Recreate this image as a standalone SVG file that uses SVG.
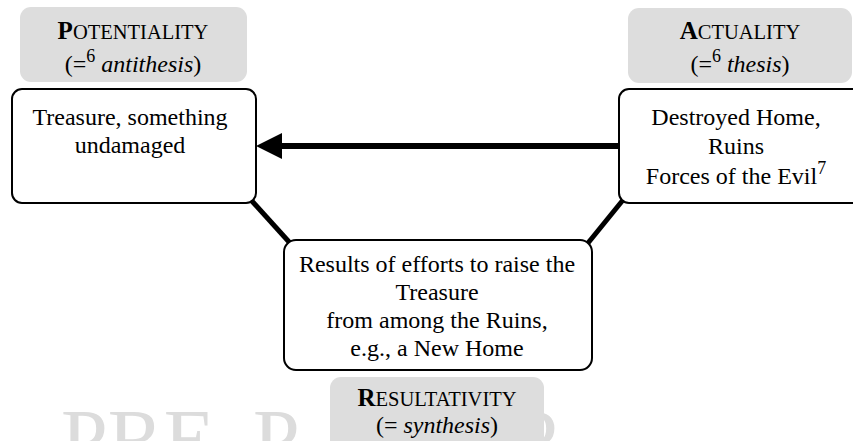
<svg xmlns="http://www.w3.org/2000/svg" width="853" height="441" viewBox="0 0 853 441">
<style>
text{font-family:"Liberation Serif","Times New Roman",serif;fill:#000;}
.t{font-size:24px;text-anchor:middle;}
.cap{font-weight:bold;font-size:25px;}
.sc{font-size:20.5px;}
.sup{font-size:18px;}
.lbl{fill:#dddddd;stroke:none;}
.node{fill:#fff;stroke:#000;stroke-width:2;}
.wm{font-size:84px;fill:#dcdcdc;}
.conn{stroke:#000;fill:none;}
</style>
<defs>
<marker id="ah" markerUnits="userSpaceOnUse" markerWidth="26" markerHeight="26" viewBox="0 -13 26 26" refX="0" refY="0" orient="auto">
<path d="M0,-13 L26,0 L0,13 z" fill="#000"/>
</marker>
</defs>
<g id="watermark">
<text class="wm" x="61" y="468">PRE</text>
<text class="wm" x="253" y="468">P</text>
<text class="wm" x="511" y="468">P</text>
</g>
<g id="connectors">
<line class="conn" x1="619" y1="146" x2="282" y2="146" stroke-width="6" marker-end="url(#ah)"/>
<line class="conn" x1="251" y1="200" x2="290" y2="243" stroke-width="5"/>
<line class="conn" x1="623" y1="200" x2="588" y2="243" stroke-width="5"/>
</g>
<g id="label-potentiality">
<rect class="lbl" x="20" y="7" width="227" height="75" rx="11"/>
<text class="t" x="133" y="39"><tspan class="cap">P</tspan><tspan class="sc">OTENTIALITY</tspan></text>
<text class="t" x="133" y="72">(=<tspan class="sup" dy="-10">6</tspan><tspan dy="10"> </tspan><tspan font-style="italic">antithesis</tspan>)</text>
</g>
<g id="label-actuality">
<rect class="lbl" x="628" y="8" width="224" height="75" rx="11"/>
<text class="t" x="740" y="39"><tspan class="cap">A</tspan><tspan class="sc">CTUALITY</tspan></text>
<text class="t" x="740" y="72">(=<tspan class="sup" dy="-10">6</tspan><tspan dy="10"> </tspan><tspan font-style="italic">thesis</tspan>)</text>
</g>
<g id="node-potentiality">
<rect class="node" x="12" y="89" width="244" height="114" rx="10"/>
<text class="t" x="130" y="125">Treasure, something</text>
<text class="t" x="130" y="153">undamaged</text>
</g>
<g id="node-actuality">
<rect class="node" x="619" y="89" width="250" height="114" rx="10"/>
<text class="t" x="736" y="125">Destroyed Home,</text>
<text class="t" x="736" y="154">Ruins</text>
<text class="t" x="736" y="184">Forces of the Evil<tspan class="sup" dy="-10">7</tspan></text>
</g>
<g id="node-resultativity">
<rect class="node" x="284" y="240" width="308" height="130" rx="12"/>
<text class="t" x="437" y="272">Results of efforts to raise the</text>
<text class="t" x="437" y="300">Treasure</text>
<text class="t" x="437" y="328">from among the Ruins,</text>
<text class="t" x="437" y="356">e.g., a New Home</text>
</g>
<g id="label-resultativity">
<rect class="lbl" x="330" y="377" width="214" height="80" rx="11"/>
<text class="t" x="437" y="406"><tspan class="cap">R</tspan><tspan class="sc">ESULTATIVITY</tspan></text>
<text class="t" x="437" y="433">(= <tspan font-style="italic">synthesis</tspan>)</text>
</g>
</svg>
